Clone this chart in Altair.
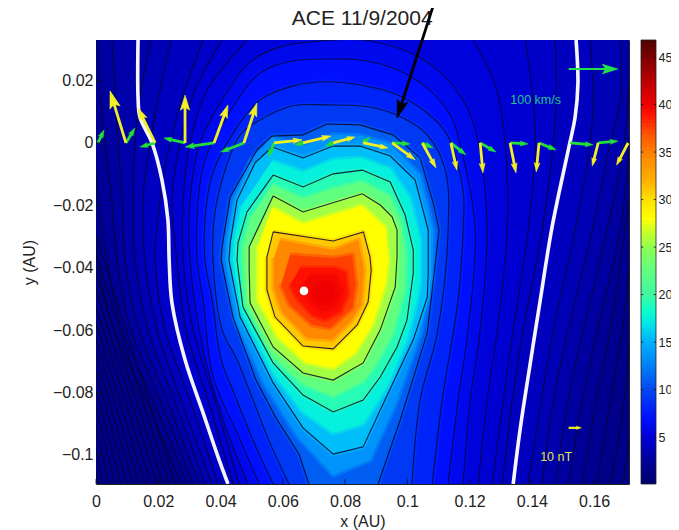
import numpy as np
import pandas as pd
import altair as alt

FONT = "Liberation Sans"
X_DOMAIN = [0.0, 0.1712]
Y_DOMAIN = [-0.1093, 0.0330]
X_TICKS = [0, 0.02, 0.04, 0.06, 0.08, 0.1, 0.12, 0.14, 0.16]
Y_TICKS = [0.02, 0, -0.02, -0.04, -0.06, -0.08, -0.1]
BAR_TICKS = [5, 10, 15, 20, 25, 30, 35, 40, 45]
BAR_DOMAIN = [0.06, 46.8]

COLOR_STOPS = [0.06, 2.5, 5, 7, 10, 12.5, 15, 17, 18.5, 20, 22.5, 25, 27, 28, 30, 32, 35, 37, 39, 40, 43, 46.8]
COLOR_VALUES = ["#000070", "#000098", "#0000d8", "#0010ff", "#0048f0", "#0080f8", "#00b0ff", "#00e8e8",
                "#10ffc8", "#40f8a0", "#60ff80", "#90ff50", "#d8ff20", "#ffff00", "#ffe000", "#ffb000",
                "#ff8000", "#ff5000", "#ff1000", "#f00000", "#b00000", "#500000"]

# ---- closed rings of the flux-rope core: level, x, y
C1_X = [.0569, .0762, .0859, .0880, .0884, .0874, .0839, .0762, .0665, .0575, .0549, .0549]
C1_Y = [-.0285, -.0314, -.0285, -.0365, -.0407, -.0510, -.0583, -.0660, -.0651, -.0558, -.0471, -.0365]
C2_X = [.0569, .0665, .0855, .0913, .0951, .0967, .0967, .0961, .0913, .0858, .0762, .0665, .0569, .0495, .0492, .0492]
C2_Y = [-.0170, -.0221, -.0163, -.0199, -.0237, -.0279, -.0365, -.0462, -.0599, -.0705, -.0760, -.0737, -.0654, -.0513, -.0407, -.0333]
C3_X = [.0569, .0665, .0762, .0855, .0945, .0993, .1019, .1019, .0999, .0967, .0913, .0858, .0762, .0665, .0569, .0472, .0453, .0456, .0485]
C3_Y = [-.0103, -.0141, -.0099, -.0087, -.0125, -.0231, -.0343, -.0417, -.0567, -.0654, -.0750, -.0824, -.0862, -.0808, -.0705, -.0526, -.0375, -.0321, -.0221]
C4_X = [.0566, .0665, .0762, .0848, .0945, .1025, .1067, .1067, .1064, .1019, .0913, .0858, .0762, .0665, .0569, .0463, .0427, .0431, .0453, .0511]
C4_Y = [-.0013, -.0048, -.0010, -.0010, -.0042, -.0119, -.0279, -.0417, -.0494, -.0631, -.0856, -.0974, -.0997, -.0913, -.0769, -.0558, -.0375, -.0321, -.0183, -.0064]

# colour isolines between the drawn contours (no black line)
M14_X = [.0565, .0665, .0762, .0855, .0945, .1041, .1083, .1080, .1041, .0961, .0880, .0762, .0649, .0543, .0447, .0414, .0418, .0440, .0501]
M14_Y = [.0019, -.0010, .0026, .0022, -.0003, -.0103, -.0279, -.0439, -.0615, -.0840, -.1016, -.1064, -.0942, -.0776, -.0567, -.0375, -.0311, -.0183, -.0048]
M18_X = [.0565, .0665, .0762, .0851, .0945, .1008, .1041, .1041, .1031, .0999, .0938, .0858, .0762, .0665, .0569, .0466, .0440, .0443, .0469]
M18_Y = [-.0058, -.0093, -.0054, -.0048, -.0083, -.0176, -.0311, -.0439, -.0503, -.0631, -.0776, -.0901, -.0929, -.0862, -.0737, -.0542, -.0375, -.0311, -.0199]
M23_X = [.0565, .0665, .0762, .0855, .0945, .0980, .0993, .0990, .0951, .0887, .0858, .0762, .0665, .0569, .0482, .0473, .0473, .0501]
M23_Y = [-.0135, -.0179, -.0147, -.0125, -.0173, -.0256, -.0359, -.0471, -.0615, -.0727, -.0763, -.0811, -.0772, -.0686, -.0519, -.0391, -.0327, -.0231]
M28_X = [.0565, .0665, .0855, .0929, .0938, .0929, .0887, .0832, .0762, .0672, .0585, .0521, .0521, .0521]
M28_Y = [-.0208, -.0260, -.0202, -.0272, -.0375, -.0455, -.0583, -.0673, -.0721, -.0702, -.0622, -.0503, -.0401, -.0327]
I34_X = [.0591, .0762, .0842, .0861, .0852, .0816, .0758, .0678, .0598, .0571, .0571]
I34_Y = [-.0311, -.0343, -.0311, -.0407, -.0519, -.0574, -.0631, -.0625, -.0542, -.0465, -.0369]
I36_X = [.0623, .0762, .0823, .0835, .0823, .0752, .0694, .0623, .0594]
I36_Y = [-.0359, -.0369, -.0359, -.0455, -.0529, -.0593, -.0583, -.0519, -.0455]
I38_X = [.0655, .0768, .0803, .0809, .0784, .0736, .0694, .0649, .0623]
I38_Y = [-.0401, -.0401, -.0414, -.0487, -.0542, -.0567, -.0551, -.0503, -.0455]
I40_X = [.0688, .0768, .0791, .0768, .0726, .0688, .0655]
I40_Y = [-.0423, -.0423, -.0471, -.0529, -.0542, -.0510, -.0465]
I41_X = [.0713, .0758, .0768, .0745, .0710, .0694]
I41_Y = [-.0449, -.0449, -.0487, -.0513, -.0503, -.0471]

# ---- arches that reach the lower edge
C5_X = [.0684, .0652, .0578, .0514, .0440, .0402, .0405, .0431, .0517, .0565, .0665, .0742, .0848, .0954, .1041, .1083, .1102, .1064, .0977, .0906]
C5_Y = [-.1093, -.0997, -.0881, -.0760, -.0558, -.0375, -.0333, -.0173, -.0022, .0022, .0026, .0061, .0058, .0026, -.0048, -.0192, -.0279, -.0609, -.0888, -.1093]
C6_X = [.0620, .0559, .0508, .0453, .0405, .0376, .0379, .0405, .0463, .0527, .0633, .0742, .0880, .0986, .1064, .1122, .1131, .1096, .1041, .1015]
C6_Y = [-.1093, -.0962, -.0833, -.0695, -.0599, -.0375, -.0247, -.0119, .0026, .0074, .0119, .0122, .0115, .0080, .0026, -.0087, -.0279, -.0609, -.0824, -.1093]
C7_X = [.0569, .0504, .0443, .0402, .0373, .0350, .0350, .0373, .0447, .0527, .0633, .0742, .0848, .0954, .1064, .1128, .1179, .1179, .1163, .1112, .1080]
C7_Y = [-.1093, -.0952, -.0801, -.0695, -.0503, -.0375, -.0247, -.0103, .0042, .0138, .0183, .0196, .0186, .0160, .0096, .0026, -.0151, -.0279, -.0503, -.0824, -.1093]
C8_X = [.0524, .0459, .0376, .0344, .0325, .0328, .0350, .0414, .0527, .0633, .0742, .0848, .0954, .1064, .1138, .1170, .1218, .1195, .1163, .1131]
C8_Y = [-.1093, -.0942, -.0750, -.0503, -.0375, -.0183, -.0054, .0074, .0224, .0263, .0269, .0266, .0240, .0176, .0090, -.0006, -.0279, -.0599, -.0824, -.1093]
C9_X = [.0488, .0414, .0344, .0302, .0302, .0334, .0405, .0495, .0591, .0720, .0880, .1064, .1179, .1228, .1256, .1234, .1202, .1179]
C9_Y = [-.1093, -.0904, -.0663, -.0375, -.0183, 0, .0138, .0260, .0308, .0327, .0327, .0260, .0138, 0, -.0279, -.0599, -.0824, -.1093]

# ---- left and right legs of the outer field lines
LEFT_Y = [-.1093, -.0824, -.0599, -.0375, -.0183, 0, .0170, .0330]
L10_X = [.0459, .0382, .0312, .0280, .0280, .0302, .0357, .0485]
L11_X = [.0440, .0360, .0289, .0260, .0244, .0270, .0318, .0405]
L12_X = [.0392, .0302, .0222, .0190, .0206, .0238, .0286, .0344]
L13_X = [.0373, .0273, .0196, .0157, .0151, .0174, .0206, .0241]
L14_X = [.0350, .0251, .0167, .0125, .0119, .0125, .0145, .0177]
L15_X = [.0331, .0228, .0138, .0093, .0084, .0071, .0061, .0051]
L16_X = [.0312, .0206, .0112, .0067, .0051, .0029, .0013, .0006]
L17_X = [.0292, .0183, .0084, .0035, .0006, 0]
L17_Y = [-.1093, -.0824, -.0599, -.0375, -.0183, -.0087]
L18_X = [.0273, .0161, .0058, .0006, 0]
L18_Y = [-.1093, -.0824, -.0599, -.0375, -.0311]

RIGHT_Y = [.0330, .0138, 0, -.0279, -.0599, -.0824, -.1093]
R10_X = [.1211, .1282, .1314, .1321, .1289, .1256, .1228]
R10_Y = [.0330, .0186, 0, -.0279, -.0599, -.0824, -.1093]
R11_X = [.1379, .1404, .1411, .1388, .1340, .1308, .1273]
R12_X = [.1475, .1478, .1469, .1433, .1372, .1337, .1305]
R13_X = [.1587, .1597, .1587, .1539, .1469, .1430, .1388]
R14_X = [.1684, .1684, .1652, .1594, .1517, .1469, .1433]
R15_X = [.1712, .1697, .1642, .1565, .1517, .1475]
R15_Y = [.0202, 0, -.0279, -.0599, -.0824, -.1093]
R16_X = [.1712, .1684, .1610, .1562, .1517]
R16_Y = [-.0022, -.0279, -.0599, -.0824, -.1093]
R17_X = [.1712, .1652, .1607, .1562]
R17_Y = [-.0183, -.0599, -.0824, -.1093]
R18_X = [.1712, .1690, .1652, .1610]
R18_Y = [-.0407, -.0599, -.0824, -.1093]
R19_X = [.1712, .1697, .1652]
R19_Y = [-.0647, -.0824, -.1093]
R20_X = [.1712, .1693]
R20_Y = [-.0952, -.1093]

# lines that enter from the left edge in the lower-left corner
FAR_START_Y = [-.0295, -.0359, -.0417, -.0471, -.0526, -.0577, -.0631, -.0683, -.0734, -.0792, -.0849, -.0913, -.0984, -.1048]
FAR_END_X = [.0254, .0235, .0215, .0196, .0177, .0157, .0138, .0119, .0100, .0080, .0061, .0042, .0022, .0006]

# white boundary curves
WL_X = [.0135, .0135, .0141, .0180, .0212, .0231, .0235, .0244, .0286, .0344, .0392, .0424]
WL_Y = [.0330, .0147, .0083, 0, -.0119, -.0247, -.0375, -.0513, -.0695, -.0865, -.1006, -.1093]
WR_X = [.1542, .1548, .1539, .1517, .1465, .1427, .1395, .1362, .1340]
WR_Y = [.0330, .0192, .0083, -.0022, -.0269, -.0503, -.0705, -.0920, -.1093]

# arrows along the spacecraft path
BASE_X = [.0006, .0096, .0190, .0286, .0379, .0475, .0572, .0665, .0762, .0858, .0951, .1048, .1140, .1234, .1330, .1423, .1523, .1613, .1709]
YEL_TIP_X = [None, .0045, .0135, .0286, .0424, .0517, .0662, .0755, .0832, .0938, .1025, .1092, .1159, .1243, .1349, .1414, None, .1594, .1672]
YEL_TIP_Y = [None, .0167, .0112, .0154, .0122, .0128, .0010, .0022, .0019, -.0016, -.0054, -.0080, -.0087, -.0096, -.0096, -.0093, None, -.0074, -.0071]
GRN_TIP_X = [.0026, .0125, .0141, .0218, .0286, .0401, .0553, .0639, .0736, .0880, .1009, .1083, .1188, .1285, .1388, .1478, .1597, .1677, None]
GRN_TIP_Y = [.0042, .0048, -.0013, .0016, -.0013, -.0029, -.0045, -.0006, -.0010, .0019, -.0003, -.0016, -.0038, -.0029, -.0003, -.0022, -.0006, .0006, None]

# scale arrows and pointer
GREEN_KEY = ([.1518], [.0237], [.1677], [.0237])
YELLOW_KEY = ([.1518], [-.0913], [.1559], [-.0913])
POINTER = ([.1089], [.0458], [.0967], [.0080])
PEAK_X, PEAK_Y = [.0668], [-.0474]

AU = 3115.0
sx = alt.Scale(domain=X_DOMAIN, nice=False, zero=False)
sy = alt.Scale(domain=Y_DOMAIN, nice=False, zero=False)
sc = alt.Scale(domain=COLOR_STOPS, range=COLOR_VALUES, interpolate="rgb")
AXIS_STYLE = dict(format="~g", grid=False, tickSize=0, domain=False, labelFont=FONT, labelFontSize=16,
                  labelColor="#222", titleFont=FONT, titleFontSize=16, titleFontWeight="normal",
                  titleColor="#222", labelFlush=False)
AX = alt.Axis(values=X_TICKS, title="x (AU)", labelPadding=9, titlePadding=4, **AXIS_STYLE)
AY = alt.Axis(values=Y_TICKS, title="y (AU)", labelPadding=3, titlePadding=15, **AXIS_STYLE)
X = alt.X("x:Q", scale=sx, axis=AX)
Y = alt.Y("y:Q", scale=sy, axis=AY)


def ring(xs, ys, level, curve="linear"):
    return pd.DataFrame({"x": xs, "y": ys, "seq": range(len(xs)), "level": level}), curve


def legs(lx, ly, rx, ry, level):
    xs, ys = list(lx), list(ly)
    if lx[-1] == 0:
        xs.append(X_DOMAIN[0]); ys.append(Y_DOMAIN[1])
    if rx[0] == X_DOMAIN[1]:
        xs.append(X_DOMAIN[1]); ys.append(Y_DOMAIN[1])
    return ring(xs + list(rx), ys + list(ry), level)


SMOOTH = "catmull-rom"
fills = [
    ring([X_DOMAIN[0], X_DOMAIN[1], X_DOMAIN[1], X_DOMAIN[0]], [Y_DOMAIN[1], Y_DOMAIN[1], Y_DOMAIN[0], Y_DOMAIN[0]], 1.5),
    legs(L18_X, L18_Y, R18_X, R18_Y, 2.0),
    legs(L17_X, L17_Y, R17_X, R17_Y, 2.4),
    legs(L16_X, LEFT_Y, R16_X, R16_Y, 2.8),
    legs(L15_X, LEFT_Y, R15_X, R15_Y, 3.2),
    legs(L14_X, LEFT_Y, R14_X, RIGHT_Y, 3.6),
    legs(L13_X, LEFT_Y, R13_X, RIGHT_Y, 4.0),
    legs(L12_X, LEFT_Y, R12_X, RIGHT_Y, 4.4),
    legs(L11_X, LEFT_Y, R11_X, RIGHT_Y, 4.8),
    legs(L10_X, LEFT_Y, R10_X, R10_Y, 5.2),
    ring(C9_X, C9_Y, 6.0, SMOOTH), ring(C8_X, C8_Y, 7.0, SMOOTH), ring(C7_X, C7_Y, 8.0, SMOOTH), ring(C6_X, C6_Y, 9.2, SMOOTH),
    ring(C5_X, C5_Y, 11.0), ring(M14_X, M14_Y, 13.5), ring(C4_X, C4_Y, 15.5), ring(M18_X, M18_Y, 17.5),
    ring(C3_X, C3_Y, 19.2), ring(M23_X, M23_Y, 22.5), ring(C2_X, C2_Y, 25.5), ring(M28_X, M28_Y, 28.0),
    ring(C1_X, C1_Y, 31.0), ring(I34_X, I34_Y, 34.5), ring(I36_X, I36_Y, 37.5), ring(I38_X, I38_Y, 39.0),
    ring(I40_X, I40_Y, 39.6), ring(I41_X, I41_Y, 40.0),
]
fill_layers = [
    alt.Chart(f).mark_line(filled=True, clip=True, strokeWidth=5, strokeOpacity=0.5, strokeJoin="round", interpolate=curve).encode(
        x=X, y=Y, order=alt.Order("seq:Q"),
        color=alt.Color("level:Q", scale=sc, legend=None),
        stroke=alt.Stroke("level:Q", scale=sc, legend=None),
    )
    for f, curve in fills
]

smooth_lines = [(C6_X, C6_Y), (C7_X, C7_Y), (C8_X, C8_Y), (C9_X, C9_Y),
                (L10_X, LEFT_Y), (L11_X, LEFT_Y), (L12_X, LEFT_Y), (L13_X, LEFT_Y), (L14_X, LEFT_Y),
                (L15_X, LEFT_Y), (L16_X, LEFT_Y), (L17_X, L17_Y), (L18_X, L18_Y),
                (R10_X, R10_Y), (R11_X, RIGHT_Y), (R12_X, RIGHT_Y), (R13_X, RIGHT_Y), (R14_X, RIGHT_Y),
                (R15_X, R15_Y), (R16_X, R16_Y), (R17_X, R17_Y), (R18_X, R18_Y), (R19_X, R19_Y), (R20_X, R20_Y)]
closed_lines = [(C1_X, C1_Y), (C2_X, C2_Y), (C3_X, C3_Y), (C4_X, C4_Y)]
smooth_rows, angular_rows = [], []
for i, (a, b) in enumerate(smooth_lines):
    smooth_rows.append(pd.DataFrame({"x": a, "y": b, "seq": range(len(a)), "id": f"o{i}"}))
for i, (s, e) in enumerate(zip(FAR_START_Y, FAR_END_X)):
    smooth_rows.append(pd.DataFrame({"x": [X_DOMAIN[0], e], "y": [s, Y_DOMAIN[0]], "seq": [0, 1], "id": f"f{i}"}))
angular_rows.append(pd.DataFrame({"x": C5_X, "y": C5_Y, "seq": range(len(C5_X)), "id": "c5"}))
for i, (a, b) in enumerate(closed_lines):
    angular_rows.append(pd.DataFrame({"x": list(a) + [a[0]], "y": list(b) + [b[0]], "seq": range(len(a) + 1), "id": f"c{i}"}))
smooth_contours = alt.Chart(pd.concat(smooth_rows)).mark_line(
    clip=True, stroke="#06062a", strokeWidth=1.1, opacity=0.8, interpolate=SMOOTH).encode(
    x=X, y=Y, detail="id:N", order=alt.Order("seq:Q"))
angular_contours = alt.Chart(pd.concat(angular_rows)).mark_line(
    clip=True, stroke="#06062a", strokeWidth=1.1, opacity=0.85).encode(
    x=X, y=Y, detail="id:N", order=alt.Order("seq:Q"))

whites = pd.concat([ring(WL_X, WL_Y, 0)[0].assign(id="l"), ring(WR_X, WR_Y, 0)[0].assign(id="r")])
white_lines = alt.Chart(whites).mark_line(clip=True, stroke="#f6f6ff", strokeWidth=3.6, interpolate=SMOOTH).encode(
    x=X, y=Y, detail="id:N", order=alt.Order("seq:Q"))


def arrows(bx, by, tx, ty, scale_head=0.16, min_r=4.0):
    out = []
    for a, b, c, d in zip(bx, by, tx, ty):
        if c is None:
            continue
        dx, dy = c - a, d - b
        n = np.hypot(dx, dy)
        r = max(min_r, scale_head * n * AU)
        cx, cy = c - dx / n * r / AU, d - dy / n * r / AU
        out.append({"x": a, "y": b, "x2": cx, "y2": cy, "hx": cx, "hy": cy,
                    "angle": float(np.degrees(np.arctan2(dx, dy)) % 360), "size": (2 * r) ** 2})
    return pd.DataFrame(out)


HEAD = "M0,-1L-0.62,1L0,0.6L0.62,1Z"


def arrow_layers(df, color, width, clip=True):
    shaft = alt.Chart(df).mark_rule(stroke=color, strokeWidth=width, clip=clip).encode(
        x=X, y=Y, x2=alt.X2("x2:Q"), y2=alt.Y2("y2:Q"))
    head = alt.Chart(df).mark_point(shape=HEAD, filled=True, fill=color, stroke=color, strokeWidth=0.5, opacity=1, clip=clip).encode(
        x=alt.X("hx:Q", scale=sx, axis=AX), y=alt.Y("hy:Q", scale=sy, axis=AY),
        angle=alt.Angle("angle:Q", scale=None), size=alt.Size("size:Q", scale=None))
    return [shaft, head]


grn = arrows(BASE_X, [0] * len(BASE_X), GRN_TIP_X, GRN_TIP_Y)
yel = arrows(BASE_X, [0] * len(BASE_X), YEL_TIP_X, YEL_TIP_Y)
gkey = arrows(*GREEN_KEY)
ykey = arrows(*YELLOW_KEY, min_r=2.5)
ptr = arrows(*POINTER, scale_head=0.07, min_r=9.0)

peak = alt.Chart(pd.DataFrame({"x": PEAK_X, "y": PEAK_Y})).mark_point(
    filled=True, fill="white", size=75, opacity=1, shape="circle").encode(x=X, y=Y)

notes = pd.DataFrame({"x": [.1412, .1478], "y": [.0138, -.1006], "t": ["100 km/s", "10 nT"], "c": ["#24c488", "#e6e64a"]})
note_text = alt.Chart(notes).mark_text(font=FONT, fontSize=12.5, align="center", baseline="middle").encode(
    x=X, y=Y, text="t:N", color=alt.Color("c:N", scale=None))

title_text = alt.Chart(pd.DataFrame({"x": [.0855], "y": [.0398], "t": ["ACE 11/9/2004"]})).mark_text(
    font=FONT, fontSize=21, color="#222", align="center", baseline="middle", clip=False).encode(x=X, y=Y, text="t:N")

x_rows = pd.DataFrame({"x": X_TICKS, "y": Y_DOMAIN[0], "y2": Y_DOMAIN[0] + 0.0016})
x_ticks = alt.Chart(x_rows).mark_rule(stroke="#111", strokeWidth=0.8).encode(x=X, y=Y, y2=alt.Y2("y2:Q"))
y_rows = pd.DataFrame({"y": Y_TICKS, "x": X_DOMAIN[0], "x2": X_DOMAIN[0] + 0.0016})
y_ticks = alt.Chart(y_rows).mark_rule(stroke="#111", strokeWidth=0.8).encode(y=Y, x=X, x2=alt.X2("x2:Q"))

main = alt.layer(
    *fill_layers, smooth_contours, angular_contours, white_lines,
    *arrow_layers(grn, "#22e038", 2.8), *arrow_layers(yel, "#f2f024", 2.8),
    *arrow_layers(gkey, "#22e04a", 2.2), *arrow_layers(ykey, "#f2f024", 2.2),
    peak, note_text, x_ticks, y_ticks, title_text,
    *arrow_layers(ptr, "#000000", 2.8, clip=False),
)

# colour bar
BAR_LEVELS = list(np.linspace(BAR_DOMAIN[0], BAR_DOMAIN[1], 129))
bar_df = pd.DataFrame({"lo": BAR_LEVELS[:-1], "hi": BAR_LEVELS[1:]})
bar_df["level"] = (bar_df.lo + bar_df.hi) / 2
bar_df["hi"] = (bar_df.hi + 0.15).clip(upper=BAR_DOMAIN[1])
bar_df["a"], bar_df["b"] = 0, 1
bx = alt.Scale(domain=[0, 1], range=[545, 560], nice=False, zero=False)
by = alt.Scale(domain=BAR_DOMAIN, nice=False, zero=False)
BX = alt.X("a:Q", scale=bx, axis=None)
BAR_AXIS = alt.Axis(orient="right", offset=27, values=BAR_TICKS, title=None, grid=False, tickSize=0, domain=False,
                    labelFont=FONT, labelFontSize=12.5, labelColor="#222", labelPadding=2)
bar_cells = alt.Chart(bar_df).mark_rect().encode(
    x=BX, x2=alt.X2("b:Q"),
    y=alt.Y("lo:Q", scale=by, axis=BAR_AXIS), y2=alt.Y2("hi:Q"),
    color=alt.Color("level:Q", scale=sc, legend=None),
)
bar_frame = alt.Chart(pd.DataFrame({"lo": [BAR_DOMAIN[0]], "hi": [BAR_DOMAIN[1]], "a": [0], "b": [1]})).mark_rect(
    fillOpacity=0, stroke="#222", strokeWidth=0.8).encode(
    x=BX, x2=alt.X2("b:Q"), y=alt.Y("lo:Q", scale=by, axis=BAR_AXIS), y2=alt.Y2("hi:Q"))
bar_t1 = alt.Chart(pd.DataFrame({"v": BAR_TICKS, "a": 0, "b": 0.15})).mark_rule(stroke="#111", strokeWidth=0.8).encode(
    x=BX, x2=alt.X2("b:Q"), y=alt.Y("v:Q", scale=by, axis=BAR_AXIS))
bar_t2 = alt.Chart(pd.DataFrame({"v": BAR_TICKS, "a": 0.85, "b": 1})).mark_rule(stroke="#111", strokeWidth=0.8).encode(
    x=BX, x2=alt.X2("b:Q"), y=alt.Y("v:Q", scale=by, axis=BAR_AXIS))
bar = alt.layer(bar_cells, bar_frame, bar_t1, bar_t2)

chart = alt.layer(main, bar).resolve_scale(x="independent", y="independent", color="independent").properties(
    width=533, height=444,
    padding={"left": 88, "top": 32, "right": 42, "bottom": 46},
    autosize=alt.AutoSizeParams(type="none"),
    background="white",
).configure_view(stroke="#222", strokeWidth=1)

chart.save("out.html", embed_options={"renderer": "svg", "actions": False})
